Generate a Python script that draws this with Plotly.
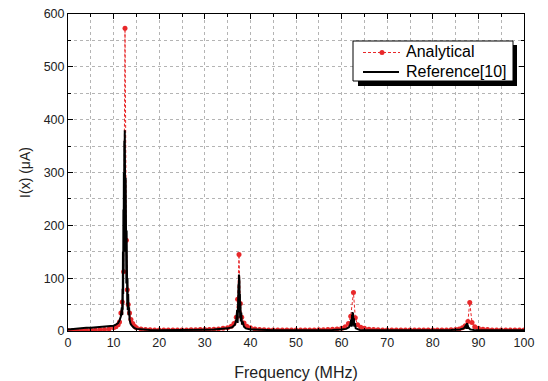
import plotly.graph_objects as go

# Analytical solution (MHz, uA)
a_freq = [0,1,2,3,4,5,6,7,8,9,10,10.5,11,11.3,11.6,11.9,12.2,12.5,12.8,13.0,13.2,13.5,13.8,14.2,14.6,15,16,17,18,19,20,21,22,23,24,25,26,27,28,29,30,31,32,33,34,35,35.8,36.4,36.9,37.2,37.5,37.8,38.1,38.6,39.2,40,41,42,43,44,45,46,47,48,49,50,51,52,53,54,55,56,57,58,59,60,60.8,61.5,62.0,62.6,63.0,63.5,64.2,65,66,67,68,69,70,71,72,73,74,75,76,77,78,79,80,81,82,83,84,85,85.8,86.5,87.1,87.7,88.1,88.6,89.2,90,91,92,93,94,95,96,97,98,99,100]
a_val = [1,1,1,1.5,1.5,2,2,2.5,3,4,6,8,12,17,34,55,112,573,172,78,50,34,22,14,9,6,4,3,2.5,2,2,2,2,2,2,2,2,2.5,2.5,3,3,3,3.5,4,5,6,9,14,26,60,145,52,26,15,9,6,4,3,2.5,2,2,2,2,2,2,2,2,2,2,2,2.5,2.5,3,3.5,4,5,8,14,28,73,25,12,7,5,3.5,3,2.5,2,2,2,2,2,2,2,2,2,2,2,2,2,2,2,2.5,3,4,6,10,18,54,16,8,5,3.5,3,2,2,2,2,2,2,2,2,2]

# Reference [10]
r_freq = [0,1,2,3,4,5,6,7,8,9,10,10.5,11,11.3,11.6,11.8,11.9,11.95,12.0,12.05,12.1,12.15,12.2,12.25,12.3,12.35,12.4,12.45,12.5,12.55,12.6,12.65,12.7,12.75,12.8,12.85,12.9,12.95,13.0,13.05,13.1,13.2,13.3,13.4,13.5,13.7,14,14.5,15,16,17,18,20,22,24,26,28,30,32,34,35,36,36.6,36.9,37.1,37.2,37.3,37.35,37.4,37.45,37.5,37.55,37.6,37.65,37.7,37.75,37.8,37.9,38.0,38.15,38.3,38.6,39,40,42,45,50,55,58,60,61,61.6,61.9,62.1,62.2,62.3,62.35,62.4,62.45,62.5,62.55,62.6,62.65,62.7,62.8,62.9,63.1,63.5,64,66,70,75,80,84,86,86.8,87.1,87.3,87.35,87.4,87.45,87.5,87.55,87.6,87.65,87.7,87.8,87.9,88.2,89,92,96,100]
r_val = [3,4,5,5,6,6,7,7,8,9,10,12,15,20,28,45,30,80,40,150,70,230,110,300,160,360,240,380,200,340,150,290,110,240,90,190,70,140,50,100,40,70,30,45,22,14,10,6,4,3,2,2,1.5,1.5,2,2,2,2.5,3,4,5,7,12,22,40,15,65,25,90,40,107,45,95,35,70,25,55,18,35,12,18,8,5,3,2,1.5,1.5,1.5,2,3,4,7,12,22,8,30,12,36,15,34,14,30,10,24,8,15,5,3,2,1.5,1.5,1.5,1.5,2,3,5,8,12,4,14,5,15,5,13,4,10,4,6,3,2,1.5,1.5,1.5]

x_ticks = [0,10,20,30,40,50,60,70,80,90,100]
y_ticks = [0,100,200,300,400,500,600]
legend_names = ["Analytical", "Reference[10]"]

RED = "#e8282a"
fig = go.Figure()
fig.add_trace(go.Scatter(
    x=a_freq, y=a_val, name=legend_names[0], mode="lines+markers",
    line=dict(color=RED, width=1, dash="3px,2px"),
    marker=dict(color=RED, size=5), showlegend=False))
fig.add_trace(go.Scatter(
    x=r_freq, y=r_val, name=legend_names[1], mode="lines",
    line=dict(color="black", width=2), showlegend=False))

# page offset (browser body margin)
OFF = 8
W, H = 548 - OFF, 381 - OFF
PL, PR, PT, PB = 68, 524, 14, 331   # plot area in page pixels
L, R, T, B = PL - OFF, W - (PR - OFF), PT - OFF, H - (PB - OFF)
pw, ph = PR - PL, PB - PT
def px(x): return (x - PL) / pw
def py(y): return (PB - y) / ph

FONT = "Liberation Sans, Arial"

# legend box with drop shadow (drawn as paper shapes)
shapes = [
    dict(type="rect", xref="paper", yref="paper", x0=px(358), x1=px(517), y0=py(86), y1=py(45),
         fillcolor="black", line=dict(width=0), layer="above"),
    dict(type="rect", xref="paper", yref="paper", x0=px(353), x1=px(513), y0=py(81), y1=py(41),
         fillcolor="white", line=dict(color="black", width=1), layer="above"),
    dict(type="line", xref="paper", yref="paper", x0=px(363), x1=px(400), y0=py(52.5), y1=py(52.5),
         line=dict(color=RED, width=1, dash="3px,2px"), layer="above"),
    dict(type="circle", xref="paper", yref="paper", x0=px(379.5), x1=px(384.5), y0=py(55), y1=py(50),
         fillcolor=RED, line=dict(width=0), layer="above"),
    dict(type="line", xref="paper", yref="paper", x0=px(363), x1=px(399), y0=py(72), y1=py(72),
         line=dict(color="black", width=2), layer="above"),
]
annotations = [
    dict(xref="paper", yref="paper", x=px(404), y=py(y), text=t, showarrow=False,
         xanchor="left", yanchor="middle", font=dict(family=FONT, size=16, color="black"))
    for t, y in zip(legend_names, [51.5, 71.5])
]

axis_common = dict(
    showline=True, linecolor="black", linewidth=1, mirror="allticks",
    ticks="inside", ticklen=5, tickcolor="black", automargin=False,
    ticklabeloverflow="allow",
    showgrid=True, gridcolor="#b4b4b4", griddash="dot", gridwidth=1,
    zeroline=False, tickfont=dict(family=FONT, size=12.5, color="#222"),
)
fig.update_xaxes(range=[0, 100], tickvals=x_ticks, **axis_common,
                 minor=dict(dtick=5, ticks="inside", ticklen=3, tickcolor="black",
                            showgrid=True, gridcolor="#b4b4b4", griddash="dot"),
                 title=dict(text="Frequency (MHz)", font=dict(family=FONT, size=16, color="#222"), standoff=17))
fig.update_yaxes(range=[0, 600], tickvals=y_ticks, **axis_common,
                 minor=dict(dtick=50, ticks="inside", ticklen=3, tickcolor="black",
                            showgrid=True, gridcolor="#b4b4b4", griddash="dot"),
                 title=dict(text="I(x) (μA)", font=dict(family=FONT, size=14, color="#222"), standoff=9))

fig.update_layout(
    width=W, height=H, margin=dict(l=L, r=R, t=T, b=B),
    paper_bgcolor="white", plot_bgcolor="white",
    showlegend=False, shapes=shapes, annotations=annotations,
)
fig.write_html("out.html")
